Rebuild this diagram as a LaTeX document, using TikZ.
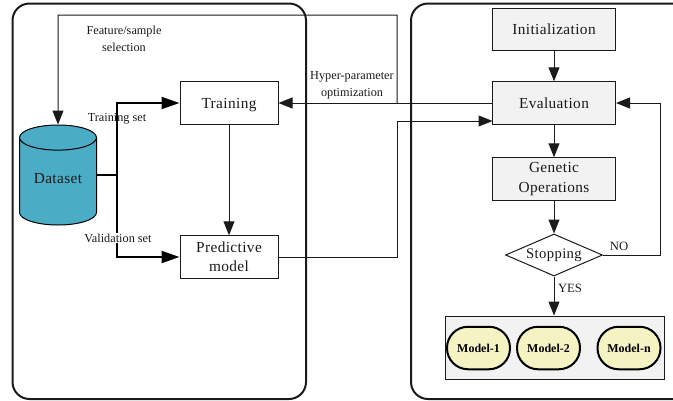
\documentclass[tikz,border=0pt]{standalone}
\usepackage{fontspec}
\setmainfont{Liberation Serif}
\newfontfamily\boxfont[LetterSpace=2.5]{Liberation Serif}
\usetikzlibrary{arrows.meta,shapes.geometric}
\newdimen\pxu \pxu=0.75pt
\definecolor{boxgray}{HTML}{F2F2F2}
\definecolor{cyl}{HTML}{4BACC6}
\definecolor{modelfill}{HTML}{F5F3C4}
\definecolor{ink}{HTML}{1A1A1A}
\tikzset{
  panel/.style={draw=ink,line width=2\pxu,rounded corners=17\pxu},
  plainbox/.style={draw=ink,line width=1\pxu,fill=white,minimum width=98\pxu,minimum height=42.5\pxu,inner sep=0pt,align=center,font=\boxfont\fontsize{11.5}{14.5}\selectfont,text=ink},
  graybox/.style={plainbox,fill=boxgray,minimum width=123\pxu},
  thinline/.style={draw=ink,line width=1\pxu},
  thinarrow/.style={thinline,-{Triangle[length=10.5pt,width=8.25pt]}},
  thickline/.style={draw=black,line width=2\pxu},
  thickarrow/.style={thickline,-{Triangle[length=13.5pt,width=9pt]}},
  lbl/.style={font=\fontsize{9.2}{13}\selectfont,text=ink,align=center,inner sep=0.5pt},
  modelnode/.style={draw=black,line width=2\pxu,fill=modelfill,rounded corners=21\pxu,minimum width=63\pxu,minimum height=42.5\pxu,inner sep=0pt,font=\bfseries\fontsize{9}{11}\selectfont},
}
\begin{document}
\begin{tikzpicture}[x=0.75pt,y=-0.75pt]
\useasboundingbox (0,0) rectangle (673,400);
\begin{scope}
\clip (0,0) rectangle (673,400);
\draw[panel] (12.5,3.5) rectangle (306,399);
\draw[panel] (411,3.5) rectangle (695,399);
\end{scope}

\node[plainbox,text depth=0pt] (train) at (229,103) {Training};
\node[plainbox] (pred) at (229,257) {Predictive\\model};
\node[graybox] (init) at (554,29.5) {Initialization};
\node[graybox] (eval) at (554,103) {Evaluation};
\node[graybox] (gen) at (554,179) {Genetic\\Operations};
\node[draw=ink,line width=1\pxu,fill=white,diamond,aspect=2.3,minimum width=97\pxu,minimum height=42\pxu,inner sep=0pt,font=\boxfont\fontsize{11}{13}\selectfont,text=ink] (stop) at (554,255) {Stopping};
\node[cylinder,shape border rotate=90,aspect=0.52,anchor=shape center,draw=black,line width=1\pxu,fill=cyl,minimum width=77\pxu,minimum height=100\pxu,inner sep=0pt,font=\boxfont\fontsize{11.5}{14}\selectfont,text=ink] (data) at (58,175) {\raisebox{7\pxu}{Dataset}};
\node[draw=ink,line width=1\pxu,fill=boxgray,minimum width=219\pxu,minimum height=63\pxu,inner sep=0pt] (models) at (554.5,347.5) {};
\node[modelnode] (m1) at (478.5,348) {Model-1};
\node[modelnode] (m2) at (548.5,348) {Model-2};
\node[modelnode] (mn) at (629,348) {Model-n};

\coordinate (trunk) at (117,175);
\coordinate (tup) at (117,103);
\coordinate (tdn) at (117,257);
\coordinate (fbr) at (397,103);
\coordinate (fbt) at (397,15);
\coordinate (fbl) at (58,15);
\coordinate (prr) at (397,257);
\coordinate (pru) at (397,121);
\coordinate (evin) at (492.5,121);
\coordinate (nor) at (660,255);
\coordinate (nou) at (660,103);

\draw[thickline] (data.east |- trunk) -- (trunk);
\draw[thickarrow] (trunk) -- (tup) -- (train.west);
\draw[thickarrow] (trunk) -- (tdn) -- (pred.west);
\draw[thinarrow] (train) -- (pred);
\draw[thinarrow] (eval.west) -- (train.east);
\draw[thinarrow] (fbr) -- (fbt) -- (fbl) -- (data.north);
\draw[thinarrow] (pred.east) -- (prr) -- (pru) -- (evin);
\draw[thinarrow] (init) -- (eval);
\draw[thinarrow] (eval) -- (gen);
\draw[thinarrow] (gen) -- (stop);
\draw[thinarrow] (stop.east) -- (nor) -- (nou) -- (eval.east);
\draw[thinarrow] (stop) -- (stop |- models.north);

\node[lbl] (l1) at (124,38.5) {Feature/sample\\selection};
\node[lbl] (l2) at (117,118.5) {Training set};
\node[lbl,fill=white] (l3) at (118,238) {Validation set};
\node[lbl] (l4) at (352,85) {Hyper-parameter\\optimization};
\node[lbl,font=\fontsize{9.5}{12}\selectfont] (l5) at (619,246.5) {NO};
\node[lbl,font=\fontsize{9.5}{12}\selectfont] (l6) at (570,288.5) {YES};
\end{tikzpicture}
\end{document}
